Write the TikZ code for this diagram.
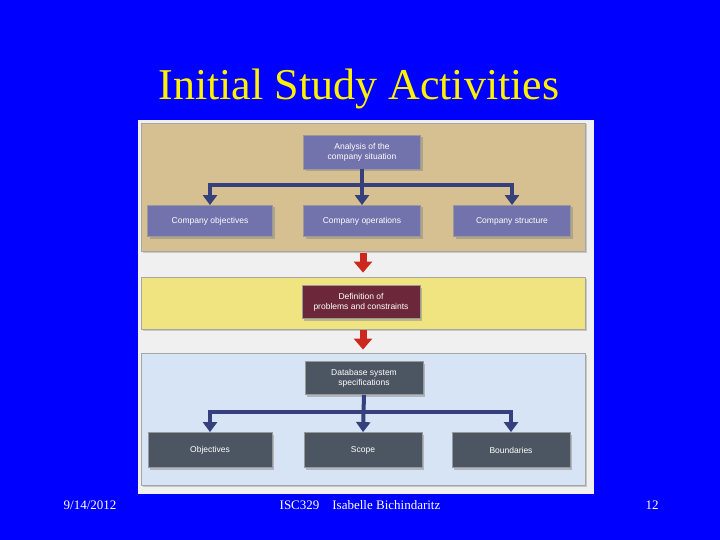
\documentclass[tikz,border=0pt]{standalone}
\usepackage{fontspec}
\setmainfont{Liberation Serif}
\setsansfont{Liberation Sans}
\usepackage{tikz}
\usetikzlibrary{arrows.meta,positioning,shadows}

\definecolor{slideblue}{RGB}{0,0,255}
\definecolor{tanpanel}{RGB}{214,192,146}
\definecolor{yelpanel}{RGB}{240,228,128}
\definecolor{bluepanel}{RGB}{214,228,246}
\definecolor{lavbox}{RGB}{114,114,172}
\definecolor{maroonbox}{RGB}{108,40,58}
\definecolor{slatebox}{RGB}{76,86,98}
\definecolor{navyline}{RGB}{54,64,124}
\definecolor{redarrow}{RGB}{204,40,30}

\begin{document}
\begin{tikzpicture}[x=1pt,y=-1pt,
  panel/.style={draw=black!35,line width=0.8pt,inner sep=0pt,drop shadow={opacity=0.35,shadow xshift=1.5pt,shadow yshift=-1.5pt}},
  box/.style={draw=white!60!black,line width=0.8pt,align=center,inner sep=2pt,text=white,font=\sffamily\fontsize{8.5}{10}\selectfont,
    drop shadow={opacity=0.45,shadow xshift=2pt,shadow yshift=-2pt}},
  conn/.style={-{Triangle[length=10pt,width=14pt]},line width=4pt,draw=navyline},
  redarr/.style={-{Triangle[length=11pt,width=18pt]},line width=7pt,draw=redarrow},
  foot/.style={text=white,font=\fontsize{13}{15}\selectfont}]
  \fill[slideblue] (0,0) rectangle (720,540);
  \useasboundingbox (0,0) rectangle (720,540);
  \node[text=yellow,font=\fontsize{44}{48}\selectfont] (title) at (359,89) {Initial Study Activities};
  % figure
  \node[fill=gray!12,inner sep=0pt,minimum width=456pt,minimum height=374pt] (fig) at (366,307) {};
  \node[panel,fill=tanpanel,minimum width=444pt,minimum height=128pt]  (tan)  at (363,187) {};
  \node[panel,fill=yelpanel,minimum width=444pt,minimum height=52pt]   (yel)  at (363,303) {};
  \node[panel,fill=bluepanel,minimum width=444pt,minimum height=132pt] (blu)  at (363,419) {};
  % company situation
  \node[box,fill=lavbox,minimum width=117pt,minimum height=34pt] (anal) at (362,152) {Analysis of the\\company situation};
  \node[box,fill=lavbox,minimum width=125pt,minimum height=31pt] (cobj) at (210,221) {Company objectives};
  \node[box,fill=lavbox,minimum width=117pt,minimum height=31pt] (cops) at (362,221) {Company operations};
  \node[box,fill=lavbox,minimum width=117pt,minimum height=31pt] (cstr) at (512,221) {Company structure};
  \coordinate (ja) at (362,185);
  \draw[conn] (anal.south) -- (cops.north);
  \draw[conn] (ja) -| (cobj.north);
  \draw[conn] (ja) -| (cstr.north);
  % problems
  \node[box,fill=maroonbox,minimum width=118pt,minimum height=33pt] (defn) at (361,302) {Definition of\\problems and constraints};
  % specifications
  \node[box,fill=slatebox,minimum width=118pt,minimum height=33pt] (dbss) at (364,378) {Database system\\specifications};
  \node[box,fill=slatebox,minimum width=124pt,minimum height=35pt] (objs) at (210,450) {Objectives};
  \node[box,fill=slatebox,minimum width=118pt,minimum height=35pt] (scop) at (363,450) {Scope};
  \node[box,fill=slatebox,minimum width=118pt,minimum height=35pt] (bnds) at (511,450) {Boundaries};
  \coordinate (jb) at (364,412);
  \draw[conn] (dbss.south) -- (scop.north);
  \draw[conn] (jb) -| (objs.north);
  \draw[conn] (jb) -| (bnds.north);
  % red arrows between panels
  \draw[redarr,shorten <=2pt,shorten >=4pt] (tan.south) -- (yel.north);
  \draw[redarr,shorten <=1pt,shorten >=3pt] (yel.south) -- (blu.north);
  % footer
  \node[foot] (date) at (90,505)  {9/14/2012};
  \node[foot] (crs)  at (360,505) {ISC329\quad Isabelle Bichindaritz};
  \node[foot] (pgno) at (652,505) {12};
\end{tikzpicture}
\end{document}
